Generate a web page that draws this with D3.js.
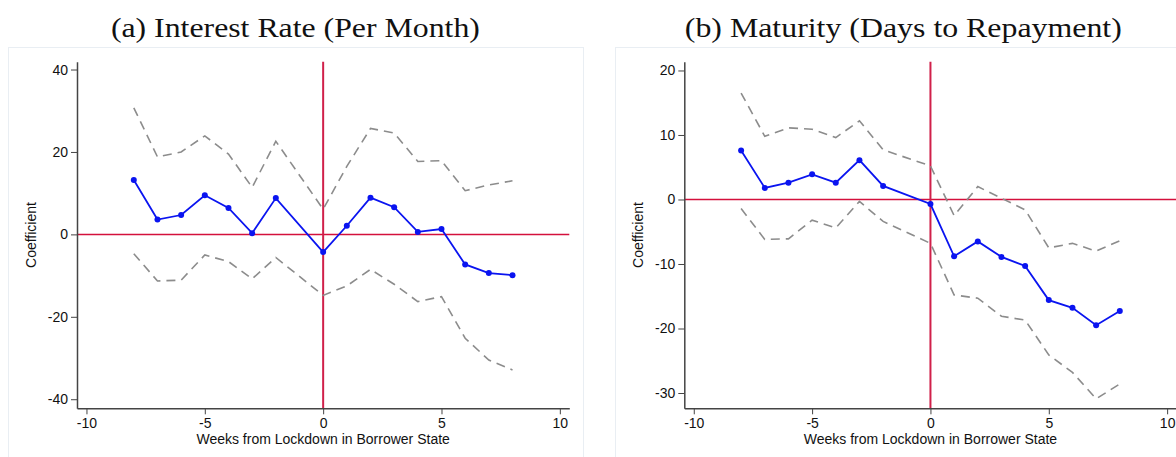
<!DOCTYPE html>
<html>
<head>
<meta charset="utf-8">
<script src="https://cdn.jsdelivr.net/npm/d3@7"></script>
<style>
  body { margin: 0; background: #fff; }
  svg { display: block; }
</style>
</head>
<body>
<div id="chart"></div>
<script>
// weeks relative to lockdown (week -1 is the omitted base period)
var weeks = [-8, -7, -6, -5, -4, -3, -2, 0, 1, 2, 3, 4, 5, 6, 7, 8];

// (a) interest rate
var rateCoef  = [13.2, 3.6, 4.7, 9.5, 6.4, 0.3, 8.8, -4.3, 2.1, 8.9, 6.6, 0.6, 1.3, -7.3, -9.4, -9.9];
var rateUpper = [30.7, 18.8, 20.0, 23.9, 19.5, 11.4, 22.6, 6.1, 16.5, 25.7, 24.6, 17.7, 17.9, 10.6, 12.0, 13.0];
var rateLower = [-4.7, -11.3, -11.1, -5.0, -6.6, -10.8, -5.6, -14.8, -12.5, -8.5, -12.1, -16.3, -15.1, -25.2, -30.5, -32.9];

// (b) maturity
var matCoef  = [7.6, 1.8, 2.6, 3.9, 2.6, 6.1, 2.1, -0.7, -8.8, -6.5, -8.9, -10.3, -15.6, -16.8, -19.5, -17.3];
var matUpper = [16.5, 9.8, 11.1, 10.9, 9.6, 12.2, 7.7, 5.2, -2.5, 2.0, 0.2, -1.6, -7.5, -6.8, -8.0, -6.4];
var matLower = [-1.4, -6.2, -6.1, -3.2, -4.4, -0.3, -3.4, -6.8, -14.8, -15.3, -18.1, -18.7, -24.1, -26.8, -30.9, -28.6];

var xTicks = [-10, -5, 0, 5, 10];
var yTicksA = [-40, -20, 0, 20, 40];
var yTicksB = [-30, -20, -10, 0, 10, 20];

var titleA = "(a) Interest Rate (Per Month)";
var titleB = "(b) Maturity (Days to Repayment)";
var xTitle = "Weeks from Lockdown in Borrower State";
var yTitle = "Coefficient";

var W = 1176, H = 457;
var svg = d3.select("#chart").append("svg")
  .attr("width", W).attr("height", H);

var sansFont = "Liberation Sans, Arial, sans-serif";
// plain hyphen for negatives, like the original
var fmt = function(d) { return String(d); };

function drawPanel(opt) {
  var g = svg.append("g");

  // outer panel frame
  g.append("rect")
    .attr("x", opt.boxX).attr("y", 47.5)
    .attr("width", opt.boxW).attr("height", 420)
    .attr("fill", "none").attr("stroke", "#e9eef3").attr("stroke-width", 1);

  // title
  g.append("text")
    .attr("x", opt.titleX).attr("y", 36.5)
    .attr("text-anchor", "middle")
    .attr("font-family", "Liberation Serif, Times New Roman, serif")
    .attr("font-size", "28px")
    .attr("fill", "#111")
    .attr("textLength", opt.titleLen)
    .attr("lengthAdjust", "spacingAndGlyphs")
    .text(opt.title);

  var x = d3.scaleLinear().domain([-10.4, 10.4]).range([opt.left, opt.left + 492.3]);
  var y = d3.scaleLinear().domain(opt.yDomain).range([408.3, 61.7]);

  // reference lines
  g.append("line")
    .attr("x1", x.range()[0]).attr("x2", x.range()[1])
    .attr("y1", y(0)).attr("y2", y(0))
    .attr("stroke", "#d4103c").attr("stroke-width", 1.5);
  g.append("line")
    .attr("x1", x(0)).attr("x2", x(0))
    .attr("y1", y.range()[1]).attr("y2", y.range()[0])
    .attr("stroke", "#d0204a").attr("stroke-width", 2);

  var line = d3.line()
    .x(function(d, i) { return x(weeks[i]); })
    .y(function(d) { return y(d); });

  // confidence bands
  [opt.upper, opt.lower].forEach(function(s) {
    g.append("path")
      .attr("d", line(s))
      .attr("fill", "none")
      .attr("stroke", "#8c8c8c")
      .attr("stroke-width", 1.6)
      .attr("stroke-dasharray", "9,6");
  });

  // point estimates
  g.append("path")
    .attr("d", line(opt.coef))
    .attr("fill", "none")
    .attr("stroke", "#0a14f0")
    .attr("stroke-width", 1.8);
  g.selectAll("circle.pt")
    .data(opt.coef)
    .enter()
    .append("circle")
    .attr("class", "pt")
    .attr("cx", function(d, i) { return x(weeks[i]); })
    .attr("cy", function(d) { return y(d); })
    .attr("r", 3)
    .attr("fill", "#0a14f0");

  // axes
  var xAxis = g.append("g")
    .attr("transform", "translate(0," + y.range()[0] + ")")
    .call(d3.axisBottom(x).tickValues(xTicks).tickFormat(fmt)
      .tickSize(6).tickPadding(4).tickSizeOuter(0));
  var yAxis = g.append("g")
    .attr("transform", "translate(" + x.range()[0] + ",0)")
    .call(d3.axisLeft(y).tickValues(opt.yTicks).tickFormat(fmt)
      .tickSize(6).tickPadding(3).tickSizeOuter(0));

  [xAxis, yAxis].forEach(function(a) {
    a.select(".domain").attr("stroke", "#444").attr("stroke-width", 1.5);
    a.selectAll(".tick line").attr("stroke", "#444").attr("stroke-width", 1);
    a.selectAll(".tick text")
      .attr("font-family", sansFont)
      .attr("font-size", "14px")
      .attr("fill", "#111");
  });

  // axis titles
  g.append("text")
    .attr("x", x(0)).attr("y", 444)
    .attr("text-anchor", "middle")
    .attr("font-family", sansFont)
    .attr("font-size", "14px")
    .attr("fill", "#111")
    .text(xTitle);
  g.append("text")
    .attr("transform", "translate(" + opt.yTitleX + ",235) rotate(-90)")
    .attr("text-anchor", "middle")
    .attr("font-family", sansFont)
    .attr("font-size", "14px")
    .attr("fill", "#111")
    .text(yTitle);
}

drawPanel({
  boxX: 8.5, boxW: 575, title: titleA, titleX: 295.4, titleLen: 369,
  left: 77, yDomain: [-42.2, 41.9], yTicks: yTicksA,
  coef: rateCoef, upper: rateUpper, lower: rateLower, yTitleX: 36
});
drawPanel({
  boxX: 615.5, boxW: 580, title: titleB, titleX: 903.3, titleLen: 437,
  left: 684.3, yDomain: [-32.37, 21.36], yTicks: yTicksB,
  coef: matCoef, upper: matUpper, lower: matLower, yTitleX: 643
});
</script>
</body>
</html>
